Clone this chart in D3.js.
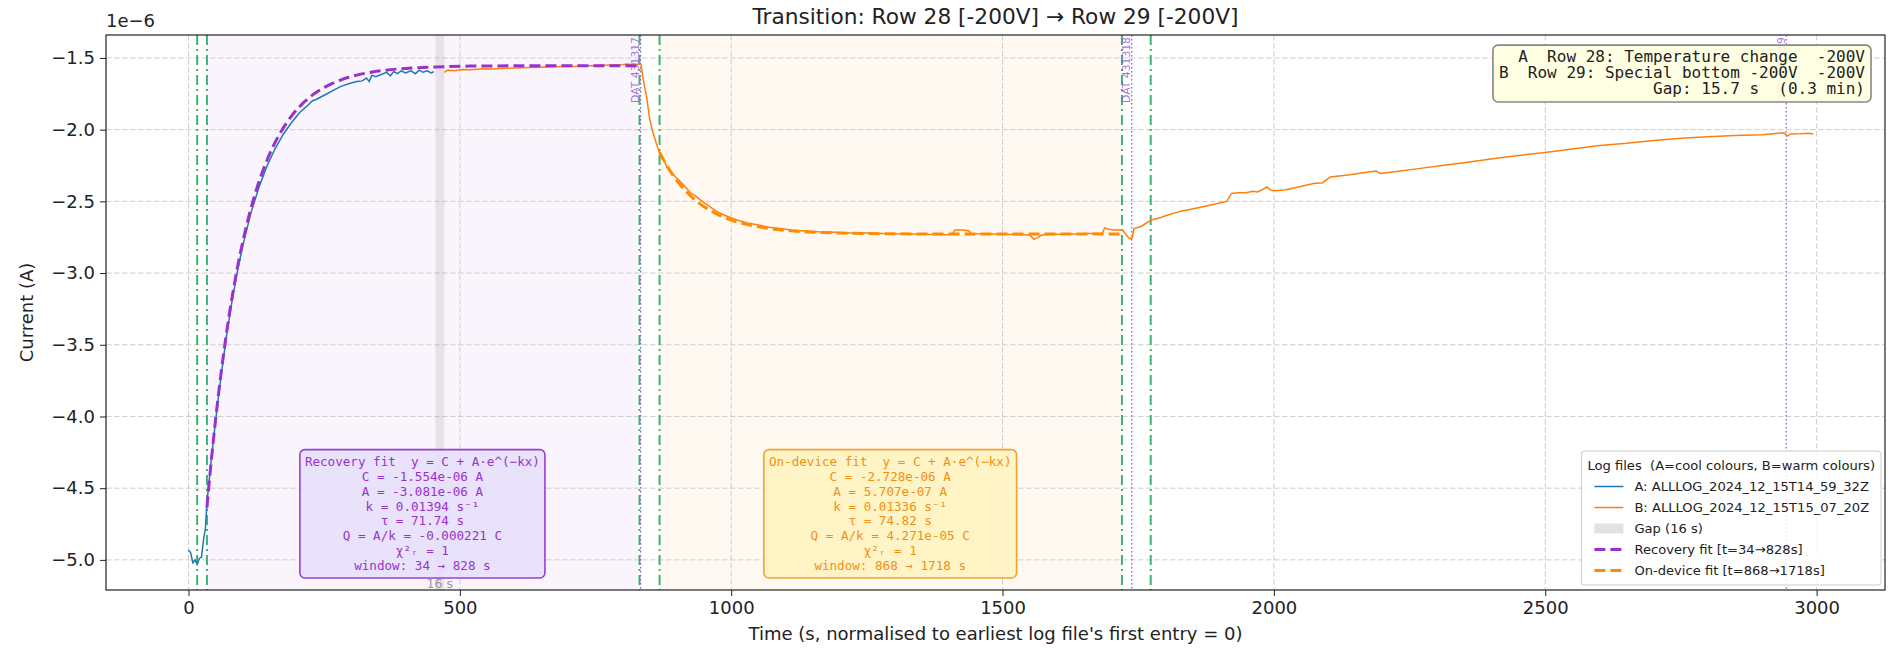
<!DOCTYPE html>
<html>
<head>
<meta charset="utf-8">
<script src="https://cdn.jsdelivr.net/npm/d3@7"></script>
<style>
body { margin: 0; background: #fff; }
text { font-family: "DejaVu Sans", sans-serif; }
.mono { font-family: "DejaVu Sans Mono", monospace; white-space: pre; }
.pre { white-space: pre; }
</style>
</head>
<body>
<div id="chart"></div>
<script>
// ---- data (current in units of 1e-6 A) ----
var timeA = [0, 4, 8, 12, 16, 20, 24, 28, 31, 34, 38, 42, 46, 50, 55, 60, 70, 80, 90, 100, 115, 130, 145, 160,
  175, 190, 205, 220, 228, 235, 250, 265, 280, 295, 310, 320, 328, 333, 338, 345, 355, 365, 372, 378, 385,
  392, 400, 410, 418, 425, 432, 440, 447, 452];
var currentA = [-4.93, -4.95, -5.02, -5.00, -5.03, -4.99, -4.98, -4.85, -4.79, -4.60, -4.45, -4.30, -4.16,
  -4.03, -3.87, -3.72, -3.44, -3.20, -2.99, -2.81, -2.58, -2.40, -2.25, -2.13, -2.03, -1.95, -1.88, -1.83,
  -1.80, -1.79, -1.76, -1.73, -1.70, -1.68, -1.665, -1.66, -1.64, -1.665, -1.62, -1.63, -1.615, -1.60, -1.625,
  -1.595, -1.61, -1.59, -1.605, -1.59, -1.61, -1.585, -1.60, -1.59, -1.605, -1.595];

var timeB = [471, 478, 490, 505, 520, 540, 560, 580, 600, 630, 660, 690, 720, 750, 780, 800, 808, 814, 820,
  826, 831, 834, 838, 844, 850, 855, 860, 865, 869, 872, 876, 881, 890, 900, 912, 925, 935, 943, 958, 973,
  990, 1010, 1030, 1050, 1070, 1090, 1110, 1130, 1160, 1190, 1220, 1250, 1280, 1320, 1360, 1400, 1408,
  1412, 1425, 1438, 1442, 1470, 1500, 1530, 1550, 1558, 1566, 1572, 1600, 1630, 1660, 1684, 1688, 1695,
  1705, 1718, 1722, 1728, 1734, 1739, 1742, 1755, 1774, 1790, 1800, 1827, 1860, 1890, 1913, 1917, 1922,
  1935, 1950, 1962, 1970, 1980, 1987, 1993, 2000, 2020, 2045, 2073, 2090, 2104, 2140, 2178, 2188, 2196,
  2230, 2270, 2310, 2350, 2400, 2450, 2500, 2550, 2600, 2650, 2700, 2750, 2800, 2850, 2900, 2930, 2940,
  2946, 2952, 2970, 2985, 2994];
var currentB = [-1.60, -1.585, -1.59, -1.58, -1.582, -1.575, -1.577, -1.572, -1.57, -1.567, -1.563, -1.56,
  -1.558, -1.553, -1.55, -1.547, -1.542, -1.545, -1.54, -1.545, -1.54, -1.55, -1.65, -1.77, -1.93, -2.01,
  -2.07, -2.13, -2.175, -2.20, -2.215, -2.256, -2.30, -2.34, -2.384, -2.44, -2.465, -2.489, -2.53, -2.57,
  -2.60, -2.63, -2.65, -2.665, -2.68, -2.69, -2.70, -2.705, -2.712, -2.715, -2.72, -2.72, -2.725, -2.728,
  -2.73, -2.732, -2.725, -2.70, -2.70, -2.705, -2.725, -2.728, -2.73, -2.732, -2.735, -2.765, -2.75,
  -2.735, -2.73, -2.728, -2.725, -2.725, -2.685, -2.695, -2.70, -2.70, -2.705, -2.735, -2.76, -2.755,
  -2.69, -2.675, -2.63, -2.615, -2.60, -2.57, -2.545, -2.52, -2.50, -2.475, -2.445, -2.44, -2.438, -2.43,
  -2.435, -2.415, -2.40, -2.42, -2.426, -2.42, -2.40, -2.375, -2.37, -2.33, -2.315, -2.293, -2.288, -2.305,
  -2.29, -2.27, -2.25, -2.23, -2.205, -2.18, -2.16, -2.135, -2.11, -2.095, -2.075, -2.06, -2.05, -2.04,
  -2.035, -2.025, -2.022, -2.045, -2.03, -2.028, -2.025, -2.03];

// fit curves
var recFitT = [34, 38, 42, 46, 50, 55, 60, 70, 80, 90, 100, 115, 130, 145, 160, 175, 190, 205, 220, 235,
  250, 265, 280, 295, 310, 330, 360, 400, 455, 520, 600, 700, 828];
var recFitY = [-4.635, -4.468, -4.310, -4.161, -4.019, -3.853, -3.699, -3.419, -3.177, -2.965, -2.782,
  -2.550, -2.362, -2.210, -2.086, -1.986, -1.904, -1.838, -1.784, -1.741, -1.706, -1.677, -1.654, -1.635,
  -1.620, -1.604, -1.587, -1.573, -1.563, -1.557, -1.555, -1.554, -1.554];
var devFitT = [868, 880, 895, 910, 930, 950, 975, 1000, 1030, 1060, 1100, 1150, 1200, 1300, 1450, 1718];
var devFitY = [-2.157, -2.242, -2.330, -2.402, -2.479, -2.537, -2.591, -2.630, -2.662, -2.684, -2.702,
  -2.715, -2.721, -2.726, -2.728, -2.728];

var recWindow = [34, 828];
var devWindow = [868, 1718];
var gapSpan = [455, 471];
var markerTimes = [16, 34, 831, 868, 1720, 1773];
var eventTimes = [833, 1738, 2944];
var eventLabels = ["DAT 431317", "DAT 431318", "DAT 431319"];

var xTicks = [0, 500, 1000, 1500, 2000, 2500, 3000];
var yTicks = [-5.0, -4.5, -4.0, -3.5, -3.0, -2.5, -2.0, -1.5];

var recText = ["Recovery fit  y = C + A\u00b7e^(\u2212kx)", "C = -1.554e-06 A", "A = -3.081e-06 A",
  "k = 0.01394 s\u207b\u00b9", "\u03c4 = 71.74 s", "Q = A/k = -0.000221 C", "\u03c7\u00b2\u1d63 = 1",
  "window: 34 \u2192 828 s"];
var devText = ["On-device fit  y = C + A\u00b7e^(\u2212kx)", "C = -2.728e-06 A", "A = 5.707e-07 A",
  "k = 0.01336 s\u207b\u00b9", "\u03c4 = 74.82 s", "Q = A/k = 4.271e-05 C", "\u03c7\u00b2\u1d63 = 1",
  "window: 868 \u2192 1718 s"];
var infoText = ["A  Row 28: Temperature change  -200V", "B  Row 29: Special bottom -200V  -200V",
  "Gap: 15.7 s  (0.3 min)"];
var legendTitle = "Log files  (A=cool colours, B=warm colours)";
var legendLabels = ["A: ALLLOG_2024_12_15T14_59_32Z", "B: ALLLOG_2024_12_15T15_07_20Z", "Gap (16 s)",
  "Recovery fit [t=34\u2192828s]", "On-device fit [t=868\u21921718s]"];

// ---- layout ----
var margin = {top: 35, right: 10, bottom: 58, left: 106},
    width = 1895 - margin.left - margin.right,
    height = 648 - margin.top - margin.bottom;

var svg = d3.select("#chart")
    .append("svg")
    .attr("width", 1895)
    .attr("height", 648)
    .append("g")
    .attr("transform", "translate(" + margin.left + "," + margin.top + ")");

var x = d3.scaleLinear().domain([-152, 3126]).range([0, width]);
var y = d3.scaleLinear().domain([-5.21, -1.34]).range([height, 0]);

svg.append("clipPath").attr("id", "clip")
    .append("rect").attr("width", width).attr("height", height);

// shaded windows
svg.append("rect")
    .attr("x", x(recWindow[0])).attr("y", 0)
    .attr("width", x(recWindow[1]) - x(recWindow[0])).attr("height", height)
    .attr("fill", "#9933cc").attr("fill-opacity", 0.05);
svg.append("rect")
    .attr("x", x(devWindow[0])).attr("y", 0)
    .attr("width", x(devWindow[1]) - x(devWindow[0])).attr("height", height)
    .attr("fill", "#ff8c00").attr("fill-opacity", 0.05);

// grid
svg.append("g").selectAll("line").data(xTicks).enter().append("line")
    .attr("x1", function(d) { return x(d); }).attr("x2", function(d) { return x(d); })
    .attr("y1", 0).attr("y2", height)
    .attr("stroke", "#c8c8c8").attr("stroke-width", 0.9).attr("stroke-dasharray", "5.5,2.5");
svg.append("g").selectAll("line").data(yTicks).enter().append("line")
    .attr("y1", function(d) { return y(d); }).attr("y2", function(d) { return y(d); })
    .attr("x1", 0).attr("x2", width)
    .attr("stroke", "#c8c8c8").attr("stroke-width", 0.9).attr("stroke-dasharray", "5.5,2.5");

// gap band
svg.append("rect")
    .attr("x", x(gapSpan[0])).attr("y", 0)
    .attr("width", x(gapSpan[1]) - x(gapSpan[0])).attr("height", height)
    .attr("fill", "#a0a0a0").attr("fill-opacity", 0.22);
svg.append("text")
    .attr("x", x((gapSpan[0] + gapSpan[1]) / 2)).attr("y", height - 2)
    .attr("text-anchor", "middle").attr("font-size", "12.6px").attr("fill", "#999")
    .text("16 s");

// marker lines
svg.append("g").selectAll("line").data(markerTimes).enter().append("line")
    .attr("x1", function(d) { return x(d); }).attr("x2", function(d) { return x(d); })
    .attr("y1", 0).attr("y2", height)
    .attr("stroke", "#3cb371").attr("stroke-width", 2).attr("stroke-dasharray", "10,4,2,4");

// event lines + labels
svg.append("g").selectAll("line").data(eventTimes).enter().append("line")
    .attr("x1", function(d) { return x(d); }).attr("x2", function(d) { return x(d); })
    .attr("y1", 0).attr("y2", height)
    .attr("stroke", "#9b59d6").attr("stroke-width", 1.3).attr("stroke-dasharray", "1.5,2.5");
svg.append("g").selectAll("text").data(eventTimes).enter().append("text")
    .attr("transform", function(d) { return "translate(" + (x(d) - 1.5) + ",2) rotate(-90)"; })
    .attr("text-anchor", "end").attr("font-size", "10.8px").attr("fill", "#9b59d6").attr("fill-opacity", 0.85)
    .text(function(d, i) { return eventLabels[i]; });

// series
var lineA = d3.line().x(function(d, i) { return x(timeA[i]); }).y(function(d) { return y(d); });
var lineB = d3.line().x(function(d, i) { return x(timeB[i]); }).y(function(d) { return y(d); });
var lineRec = d3.line().curve(d3.curveMonotoneX)
    .x(function(d, i) { return x(recFitT[i]); }).y(function(d) { return y(d); });
var lineDev = d3.line().curve(d3.curveMonotoneX)
    .x(function(d, i) { return x(devFitT[i]); }).y(function(d) { return y(d); });

var plot = svg.append("g").attr("clip-path", "url(#clip)");
plot.append("path").datum(currentA).attr("d", lineA)
    .attr("fill", "none").attr("stroke", "#1f77b4").attr("stroke-width", 1.5);
plot.append("path").datum(currentB).attr("d", lineB)
    .attr("fill", "none").attr("stroke", "#ff7f0e").attr("stroke-width", 1.5);
plot.append("path").datum(recFitY).attr("d", lineRec)
    .attr("fill", "none").attr("stroke", "#9932cc").attr("stroke-width", 3).attr("stroke-dasharray", "11,5");
plot.append("path").datum(devFitY).attr("d", lineDev)
    .attr("fill", "none").attr("stroke", "#ff8c00").attr("stroke-width", 3).attr("stroke-dasharray", "11,5");

// text boxes
function textBox(lines, cx, bottom, opts) {
    var lh = opts.lh, pad = opts.pad;
    var g = svg.append("g");
    var rect = g.append("rect");
    var h = lines.length * lh + 2 * pad;
    var top = bottom - h;
    var t = g.selectAll("text").data(lines).enter().append("text")
        .attr("class", "mono")
        .attr("font-size", opts.size + "px")
        .attr("fill", opts.color)
        .attr("y", function(d, i) { return top + pad + lh * i + lh * 0.78; })
        .text(function(d) { return d; });
    var w = d3.max(t.nodes(), function(n) { return n.getComputedTextLength(); }) + 2 * opts.padX;
    var left = opts.align == "right" ? cx - w : cx - w / 2;
    if (opts.align == "right") {
        t.attr("x", left + w - opts.padX).attr("text-anchor", "end");
    } else {
        t.attr("x", left + w / 2).attr("text-anchor", "middle");
    }
    rect.attr("x", left).attr("y", top).attr("width", w).attr("height", h)
        .attr("rx", 5).attr("fill", opts.fill).attr("fill-opacity", opts.alpha)
        .attr("stroke", opts.stroke).attr("stroke-width", 1.6);
}

textBox(recText, x((recWindow[0] + recWindow[1]) / 2), height - 12,
    {lh: 14.8, pad: 5, padX: 5, size: 12.6, color: "#9932cc", fill: "#e6e0fa", alpha: 0.92, stroke: "#9b3fd4"});
textBox(devText, x((devWindow[0] + devWindow[1]) / 2), height - 12,
    {lh: 14.8, pad: 5, padX: 5, size: 12.6, color: "#f39012", fill: "#fff3c2", alpha: 0.92, stroke: "#f5a030"});
textBox(infoText, width - 14, 67,
    {lh: 16.3, pad: 4, padX: 6, size: 16, color: "#222", fill: "#ffffe0", alpha: 0.9, stroke: "#888", align: "right"});

// legend
var rowH = 21;
var legFont = "13.1px";
var leg = svg.append("g");
var legBox = leg.append("rect");
var legTitle = leg.append("text").attr("class", "pre").attr("x", 6).attr("y", 4 + rowH * 0.5 + 4.5)
    .attr("font-size", legFont).attr("fill", "#222").text(legendTitle);
var legW = legTitle.node().getComputedTextLength() + 12, legH = 6 * rowH + 8;
var legX = width - 4 - legW, legY = height - 5 - legH;
leg.attr("transform", "translate(" + legX + "," + legY + ")");
legBox.attr("width", legW).attr("height", legH).attr("rx", 3)
    .attr("fill", "#fff").attr("fill-opacity", 0.85).attr("stroke", "#cccccc");
var legStyles = [
    {kind: "line", color: "#1f77b4", w: 1.5, dash: null},
    {kind: "line", color: "#ff7f0e", w: 1.5, dash: null},
    {kind: "patch", color: "#a0a0a0"},
    {kind: "line", color: "#9932cc", w: 3, dash: "11,5"},
    {kind: "line", color: "#ff8c00", w: 3, dash: "11,5"}
];
var rows = leg.selectAll("g.row").data(legendLabels).enter().append("g")
    .attr("transform", function(d, i) { return "translate(0," + (4 + rowH * (i + 1.5)) + ")"; });
rows.each(function(d, i) {
    var s = legStyles[i], r = d3.select(this);
    if (s.kind == "patch") {
        r.append("rect").attr("x", 13).attr("y", -5).attr("width", 29).attr("height", 10)
            .attr("fill", s.color).attr("fill-opacity", 0.3);
    } else {
        r.append("line").attr("x1", 13).attr("x2", 42).attr("y1", 0).attr("y2", 0)
            .attr("stroke", s.color).attr("stroke-width", s.w)
            .attr("stroke-dasharray", s.dash);
    }
    r.append("text").attr("x", 53).attr("y", 4.5).attr("font-size", legFont).attr("fill", "#222").text(d);
});

// frame + axes
svg.append("rect").attr("width", width).attr("height", height)
    .attr("fill", "none").attr("stroke", "#222").attr("stroke-width", 1.2);

var xAxis = svg.append("g")
    .attr("transform", "translate(0," + height + ")")
    .call(d3.axisBottom(x).tickValues(xTicks).tickFormat(d3.format("d")).tickSize(6).tickPadding(5));
var yAxis = svg.append("g")
    .call(d3.axisLeft(y).tickValues(yTicks).tickFormat(d3.format(".1f")).tickSize(6).tickPadding(5));
[xAxis, yAxis].forEach(function(a) {
    a.select(".domain").remove();
    a.selectAll("text").attr("font-size", "18px").attr("font-family", "DejaVu Sans").attr("fill", "#222");
    a.selectAll("line").attr("stroke", "#222");
});

svg.append("text").attr("x", 0).attr("y", -8).attr("font-size", "18px").attr("fill", "#222")
    .text("1e\u22126");
svg.append("text").attr("x", width / 2).attr("y", -11).attr("text-anchor", "middle")
    .attr("font-size", "21.7px").attr("fill", "#222")
    .text("Transition: Row 28 [-200V] \u2192 Row 29 [-200V]");
svg.append("text").attr("x", width / 2).attr("y", height + 50).attr("text-anchor", "middle")
    .attr("font-size", "18px").attr("fill", "#222")
    .text("Time (s, normalised to earliest log file's first entry = 0)");
svg.append("text").attr("transform", "translate(" + (-73) + "," + (height / 2) + ") rotate(-90)")
    .attr("text-anchor", "middle").attr("font-size", "18px").attr("fill", "#222")
    .text("Current (A)");
</script>
</body>
</html>
